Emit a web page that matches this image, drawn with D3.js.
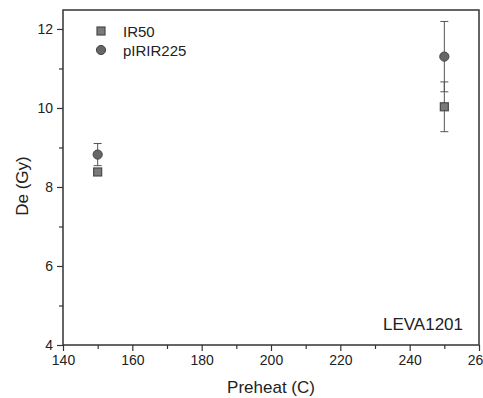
<!DOCTYPE html>
<html><head><meta charset="utf-8">
<script src="https://cdn.jsdelivr.net/npm/d3@7"></script>
<style>body{margin:0;background:#fff}svg{display:block}text{font-family:Arial,"Liberation Sans",sans-serif;fill:#222}</style>
</head><body><svg id="c" width="483" height="398"></svg>
<script>
const preheat = [150, 250];
const ir50 = [8.38, 10.03];
const ir50Err = [0.08, 0.63];
const pirir225 = [8.82, 11.30];
const pirir225Err = [0.28, 0.89];
const xTicks = [140, 160, 180, 200, 220, 240, 260];
const yTicks = [4, 6, 8, 10, 12];
const seriesNames = ["IR50", "pIRIR225"];

const svg = d3.select("#c");
const L = 63, R = 479, T = 10, B = 345;
const x = d3.scaleLinear().domain([140, 260]).range([L, R]);
const y = d3.scaleLinear().domain([4, 12.48]).range([B, T]);

const xMinor = d3.range(150, 260, 20);
const yMinor = d3.range(5, 12.5, 2);

svg.append("g").attr("transform", `translate(0,${B})`)
  .call(d3.axisBottom(x).tickValues(xTicks).tickFormat(d3.format("d")).tickSize(6).tickPadding(4));
svg.append("g").attr("transform", `translate(0,${B})`)
  .call(d3.axisBottom(x).tickValues(xMinor).tickFormat("").tickSize(4));
svg.append("g").attr("transform", `translate(${L},0)`)
  .call(d3.axisLeft(y).tickValues(yTicks).tickFormat(d3.format("d")).tickSize(6).tickPadding(4));
svg.append("g").attr("transform", `translate(${L},0)`)
  .call(d3.axisLeft(y).tickValues(yMinor).tickFormat("").tickSize(4));
svg.selectAll(".domain").remove();
svg.selectAll(".tick line").attr("stroke", "#333").attr("stroke-width", 1.2);
svg.selectAll(".tick text").style("font-size", "14px").attr("fill", "#222");

svg.append("rect").attr("x", L).attr("y", T).attr("width", R - L).attr("height", B - T)
  .attr("fill", "none").attr("stroke", "#333").attr("stroke-width", 1.5);

function errBars(vals, errs, color) {
  const g = svg.append("g").attr("stroke", color).attr("stroke-width", 1);
  preheat.forEach((p, i) => {
    const cx = x(p), lo = y(vals[i] - errs[i]), hi = y(vals[i] + errs[i]);
    g.append("line").attr("x1", cx).attr("x2", cx).attr("y1", lo).attr("y2", hi);
    g.append("line").attr("x1", cx - 4).attr("x2", cx + 4).attr("y1", lo).attr("y2", lo);
    g.append("line").attr("x1", cx - 4).attr("x2", cx + 4).attr("y1", hi).attr("y2", hi);
  });
}
errBars(pirir225, pirir225Err, "#555");
errBars(ir50, ir50Err, "#555");

svg.append("g").selectAll("rect").data(preheat).join("rect")
  .attr("x", (d) => x(d) - 4).attr("y", (d, i) => y(ir50[i]) - 4)
  .attr("width", 8).attr("height", 8)
  .attr("fill", "#7a7a7a").attr("stroke", "#4a4a4a").attr("stroke-width", 1.2);
svg.append("g").selectAll("circle").data(preheat).join("circle")
  .attr("cx", (d) => x(d)).attr("cy", (d, i) => y(pirir225[i])).attr("r", 4.6)
  .attr("fill", "#666").attr("stroke", "#444").attr("stroke-width", 1);

const lg = svg.append("g");
lg.append("rect").attr("x", 97).attr("y", 27).attr("width", 8).attr("height", 8)
  .attr("fill", "#7a7a7a").attr("stroke", "#4a4a4a").attr("stroke-width", 1.2);
lg.append("circle").attr("cx", 101).attr("cy", 50).attr("r", 4.6)
  .attr("fill", "#666").attr("stroke", "#444");
lg.append("text").attr("x", 123).attr("y", 37).style("font-size", "15px").text(seriesNames[0]);
lg.append("text").attr("x", 123).attr("y", 56).style("font-size", "15px").text(seriesNames[1]);

svg.append("text").attr("x", 463).attr("y", 330).attr("text-anchor", "end")
  .style("font-size", "17px").text("LEVA1201");

svg.append("text").attr("x", 271).attr("y", 393).attr("text-anchor", "middle")
  .style("font-size", "17px").text("Preheat (C)");
svg.append("text").attr("transform", "translate(28,186) rotate(-90)").attr("text-anchor", "middle")
  .style("font-size", "17px").text("De (Gy)");
</script></body></html>
